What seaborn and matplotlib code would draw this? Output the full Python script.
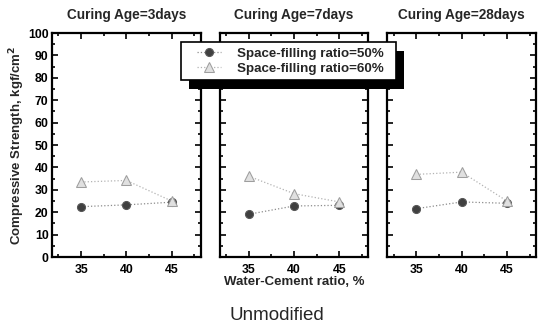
import numpy as np
import pandas as pd
import seaborn as sns
import matplotlib
matplotlib.use("Agg")
import matplotlib.pyplot as plt
from matplotlib.patches import Rectangle
from matplotlib.ticker import MultipleLocator

# ---- data ----
wc_ratio = [35, 40, 45]
ages = ["3days", "7days", "28days"]
series_names = ["Space-filling ratio=50%", "Space-filling ratio=60%"]
s50_3d = [22.5, 23.3, 24.5]
s60_3d = [33.5, 34.2, 25.0]
s50_7d = [19.1, 22.8, 23.1]
s60_7d = [36.1, 28.3, 24.6]
s50_28d = [21.6, 24.6, 24.0]
s60_28d = [36.9, 37.9, 25.0]
y_ticks = [0, 10, 20, 30, 40, 50, 60, 70, 80, 90, 100]

values = {
    "3days": (s50_3d, s60_3d),
    "7days": (s50_7d, s60_7d),
    "28days": (s50_28d, s60_28d),
}
rows = []
for age in ages:
    for name, vals in zip(series_names, values[age]):
        for w, v in zip(wc_ratio, vals):
            rows.append({"age": age, "series": name, "wc": w, "strength": v})
df = pd.DataFrame(rows)

sns.set_style("ticks")
plt.rcParams['font.family'] = ['Liberation Sans', 'DejaVu Sans']
plt.rcParams['font.weight'] = 'bold'

fig, axes = plt.subplots(1, 3, figsize=(5.42, 3.30), dpi=100)
fig.subplots_adjust(left=0.096, right=0.989, bottom=0.221, top=0.9, wspace=0.127)

styles = {
    series_names[0]: dict(marker='o', markersize=5.8, markerfacecolor='0.25',
                          markeredgecolor='0.35', color='0.55', linestyle=':', linewidth=0.9),
    series_names[1]: dict(marker='^', markersize=7, markerfacecolor='0.88',
                          markeredgecolor='0.62', color='0.7', linestyle=':', linewidth=0.9),
}

for i, (ax, age) in enumerate(zip(axes, ages)):
    for name in series_names:
        sub = df[(df.age == age) & (df.series == name)]
        sns.lineplot(data=sub, x="wc", y="strength", ax=ax, label=name,
                     legend=False, **styles[name])
    ax.set_xlim(31.8, 48.2)
    ax.set_ylim(0, 100)
    ax.set_xticks(wc_ratio)
    ax.set_yticks(y_ticks)
    ax.xaxis.set_minor_locator(MultipleLocator(2.5))
    ax.yaxis.set_minor_locator(MultipleLocator(5))
    ax.tick_params(which='both', direction='in', top=True, right=True,
                   labelsize=8.8, width=1.2, colors='black')
    ax.tick_params(which='major', length=4, pad=5)
    ax.tick_params(axis='y', which='major', pad=2.5)
    ax.tick_params(which='minor', length=2.5)
    for lab in ax.get_xticklabels() + ax.get_yticklabels():
        lab.set_fontweight('bold')
    for sp in ax.spines.values():
        sp.set_linewidth(1.6)
        sp.set_color('black')
        sp.set_visible(True)
    ax.set_title(f"Curing Age={age}", fontsize=9.8, fontweight='bold', pad=10)
    ax.set_xlabel("")
    if i == 0:
        ax.set_ylabel("Compressive Strength, kgf/cm$^\\mathbf{2}$", fontsize=9.5,
                      fontweight='bold', labelpad=1)
    else:
        ax.set_ylabel("")
        ax.tick_params(labelleft=False)

axes[1].set_xlabel("Water-Cement ratio, %", fontsize=9.5, fontweight='bold', labelpad=0)

handles, labels = axes[0].get_legend_handles_labels()
leg = fig.legend(handles, labels, loc='upper left',
                 bbox_to_anchor=(192 / 542, 1 - 42 / 330), borderaxespad=0,
                 frameon=False, prop={'size': 9.6, 'weight': 'bold'}, handlelength=1.75,
                 handletextpad=1.2, labelspacing=0.2, borderpad=0.4)
leg.set_zorder(6)

fig.text(0.51, 1 - 315 / 330, "Unmodified", ha='center', va='center',
         fontsize=13.5, fontweight='normal')

fig.canvas.draw()
bb = leg.get_window_extent()
W, H = fig.bbox.width, fig.bbox.height
x0, x1 = bb.x0 - 11, bb.x1 + 7
y0, y1 = bb.y0, bb.y1
dx, dy = 8, 9
shadow = Rectangle(((x0 + dx) / W, (y0 - dy) / H), (x1 - x0) / W, (y1 - y0) / H,
                   transform=fig.transFigure, facecolor='black', edgecolor='none',
                   zorder=5.4)
frame = Rectangle((x0 / W, y0 / H), (x1 - x0) / W, (y1 - y0) / H,
                  transform=fig.transFigure, facecolor='white', edgecolor='black',
                  linewidth=1.2, zorder=5.5)
fig.add_artist(shadow)
fig.add_artist(frame)

fig.savefig("out.png", dpi=100)
